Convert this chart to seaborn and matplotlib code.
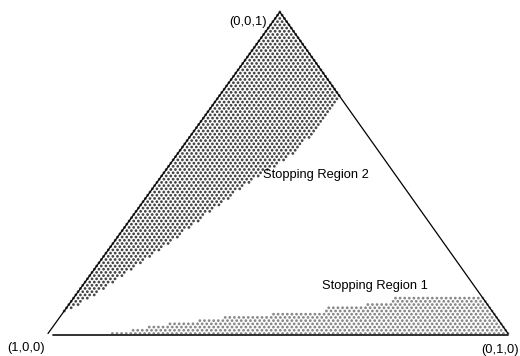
import numpy as np
import pandas as pd
import matplotlib
matplotlib.use("Agg")
import matplotlib.pyplot as plt
import seaborn as sns

# Simplex grid resolution (number of divisions per edge)
N = 100

# Stopping Region 2: right-hand boundary, share of (0,1,0) as a function of share of (0,0,1)
region2_c = [0.067, 0.104, 0.176, 0.238, 0.313, 0.394, 0.478, 0.549, 0.642, 0.736, 1.0]
region2_b = [0.008, 0.032, 0.068, 0.102, 0.136, 0.169, 0.205, 0.249, 0.267, 0.264, 0.0]

# Stopping Region 1: upper boundary as steps, starting share of (0,1,0) and max share of (0,0,1)
region1_b = [0.135, 0.178, 0.207, 0.250, 0.302, 0.352, 0.454, 0.562, 0.641, 0.693, 0.902]
region1_c = [0.000, 0.011, 0.020, 0.033, 0.042, 0.051, 0.067, 0.089, 0.098, 0.110, 0.120]

vertex_labels = ["(1,0,0)", "(0,1,0)", "(0,0,1)"]
region_labels = ["Stopping Region 1", "Stopping Region 2"]

APEX = 0.504  # horizontal position of the (0,0,1) vertex


def to_xy(b, c):
    return b + APEX * c, c


# Barycentric grid
rows = []
for k in range(N + 1):
    for j in range(N + 1 - k):
        rows.append((j / N, k / N))
grid = pd.DataFrame(rows, columns=["b", "c"])

lim2 = np.interp(grid["c"], region2_c, region2_b)
in2 = (grid["c"] >= region2_c[0] - 1e-9) & (grid["b"] <= lim2 + 1e-9)

idx = np.searchsorted(region1_b, grid["b"].values, side="right") - 1
cap1 = np.where(idx >= 0, np.array(region1_c)[np.clip(idx, 0, None)], -1.0)
in1 = grid["c"].values <= cap1 + 1e-9

grid["region"] = np.where(in2, "2", np.where(in1, "1", ""))
pts = grid[grid["region"] != ""].copy()
pts["x"], pts["y"] = to_xy(pts["b"], pts["c"])

sns.set_style("white")
plt.rcParams["font.family"] = ["Liberation Sans", "DejaVu Sans"]

fig = plt.figure(figsize=(5.2, 3.56), dpi=100)
W, H = 520, 356
ax = fig.add_axes([48 / W, (H - 333.5) / H, 460 / W, 321.5 / H])
ax.set_xlim(0, 1)
ax.set_ylim(0, 1)
ax.axis("off")

sns.scatterplot(data=pts, x="x", y="y", hue="region",
                palette={"1": "#8a8a8a", "2": "#474747"},
                s=4.0, linewidth=0, legend=False, ax=ax, clip_on=False)

# Triangle edges
A = to_xy(0, 0)
B = to_xy(1, 0)
C = to_xy(0, 1)
ax.plot([A[0], C[0], B[0]], [A[1], C[1], B[1]], color="black", lw=0.9,
        clip_on=False, solid_joinstyle="miter")
ax.plot([0.01, 1.0], [-0.005, -0.005], color="#222222", lw=1.3, clip_on=False)

fs = 9.3
kw = dict(fontsize=fs, color="black", va="center")
ax.text(-0.006, -0.045, vertex_labels[0], ha="right", **kw)
ax.text(0.983, -0.05, vertex_labels[1], ha="center", **kw)
ax.text(0.476, 0.969, vertex_labels[2], ha="right", **kw)
ax.text(0.711, 0.148, region_labels[0], ha="center", **kw)
ax.text(0.583, 0.493, region_labels[1], ha="center", **kw)

fig.savefig("out.png", dpi=100)
